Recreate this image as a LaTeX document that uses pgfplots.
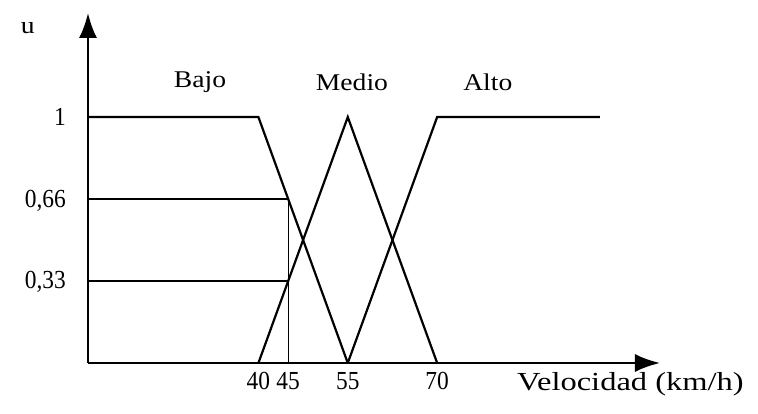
\documentclass[border=0pt]{standalone}
\usepackage{fontspec}
\setmainfont{Liberation Serif}[FakeStretch=1.15]
\newfontfamily\numfont{Liberation Serif}[FakeStretch=0.9]
\newfontfamily\widefont{Liberation Serif}[FakeStretch=1.25]
\usepackage{pgfplots}
\pgfplotsset{compat=1.18}
\usetikzlibrary{arrows.meta}
\begin{document}
\begin{tikzpicture}[curve/.style={black, line width=2.2pt, mark=none}]
\begin{axis}[
  at={(0pt,0pt)}, anchor=south west,
  scale only axis, width=572pt, height=350pt,
  xmin=11.4, xmax=107.4, ymin=0, ymax=1.423,
  enlargelimits=false,
  axis lines=left,
  axis line style={line width=2.2pt, -{Latex[length=25pt,width=18pt]}},
  xtick={40,45,55,70},
  ytick={0.33,0.66,1},
  yticklabels={{0,33},{0,66},{1}},
  major tick length=0pt,
  tick style={draw=none},
  ticklabel style={font=\numfont\fontsize{26}{30}\selectfont},
  xticklabel style={anchor=north, inner sep=0pt, yshift=-9pt},
  yticklabel style={anchor=east, inner sep=0pt, xshift=-22pt},
  /pgf/number format/assume math mode=true,
  clip=false,
]
% Bajo
\addplot[curve] coordinates {(11.4,1) (40,1) (55,0)};
% Medio
\addplot[curve] coordinates {(40,0) (55,1) (70,0)};
% Alto
\addplot[curve] coordinates {(55,0) (70,1) (97.3,1)};
% reading lines at 45
\addplot[curve] coordinates {(11.4,0.6667) (45,0.6667)};
\addplot[curve] coordinates {(11.4,0.3333) (45,0.3333)};
\addplot[curve, line width=1.2pt] coordinates {(45,0) (45,0.6667)};
\node[font=\fontsize{24}{28}\selectfont] at (axis cs:30.2,1.142) {Bajo};
\node[font=\fontsize{24}{28}\selectfont] at (axis cs:55.7,1.142) {Medio};
\node[font=\fontsize{24}{28}\selectfont] at (axis cs:78.5,1.142) {Alto};
\node[font=\widefont\fontsize{26}{30}\selectfont, anchor=west, inner sep=0pt] at (axis cs:83.4,-0.088) {Velocidad (km/h)};
\node[font=\fontsize{24}{28}\selectfont] at (axis cs:1.3,1.36) {u};
\end{axis}
\pgfresetboundingbox
\path[use as bounding box] (-88pt,-50pt) rectangle (670pt,363pt);
\end{tikzpicture}
\end{document}
